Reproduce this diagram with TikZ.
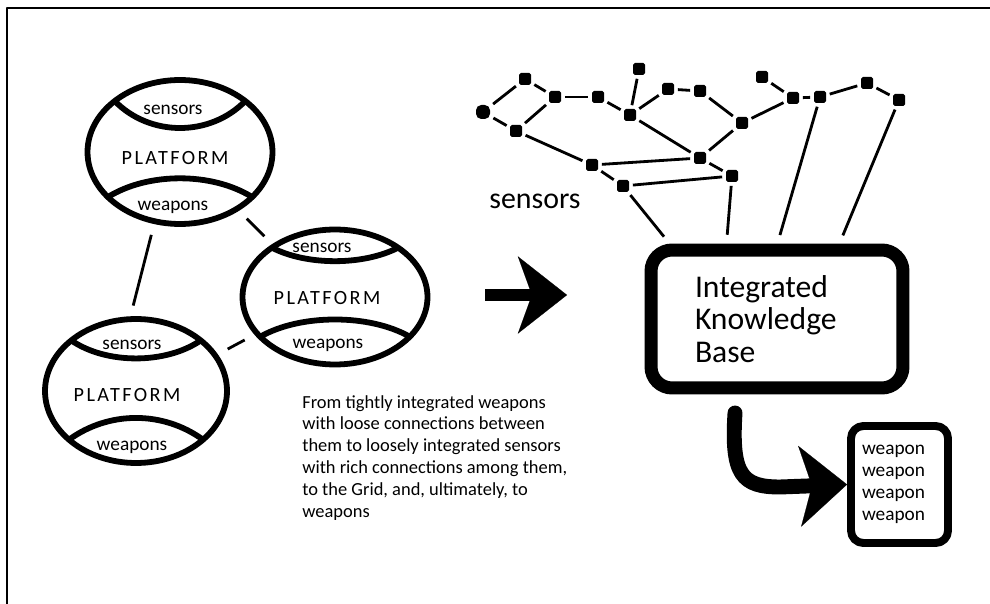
\documentclass[tikz,border=0pt]{standalone}
\usepackage{fontspec}
\setmainfont{Carlito}
\newfontfamily\platfont[LetterSpace=12]{Carlito}
\usetikzlibrary{shapes.geometric,arrows.meta}

\begin{document}
\begin{tikzpicture}[x=0.02cm,y=-0.02cm,line join=round,
	platform/.style={ellipse, draw, line width=3.3pt, inner sep=0pt, outer sep=0pt, minimum width=3.7cm, minimum height=2.88cm},
	band/.style={line width=3.3pt},
	bandtxt/.style={font=\fontsize{11}{13}\selectfont},
	plattxt/.style={font=\platfont\fontsize{11.5}{13}\selectfont},
	conn/.style={line width=1.6pt, shorten >=8pt, shorten <=8pt},
	sq/.style={rectangle, fill, inner sep=0pt, minimum size=0.24cm, rounded corners=1pt},
	link/.style={line width=1.6pt, shorten >=2pt, shorten <=2pt},
	kbbox/.style={rectangle, draw, line width=7.4pt, rounded corners=12pt, minimum width=5.04cm, minimum height=2.76cm, text width=3.28cm, align=left, font=\fontsize{18}{18.5}\selectfont},
	wbox/.style={rectangle, draw, line width=4.5pt, rounded corners=7pt, minimum width=1.94cm, minimum height=2.34cm, text width=1.5cm, align=left, font=\fontsize{11}{12.5}\selectfont},
	fatarrow/.style={line width=6.8pt, -{Stealth[length=28pt, width=44pt, inset=8pt, line width=0.1pt]}},
	bentarrow/.style={line width=8.5pt, line cap=round, -{Stealth[length=27pt, width=46pt, inset=7pt, line width=0.1pt]}}]
	\useasboundingbox (0,0) rectangle (990,604);
	\draw[line width=1.4pt] (7,604) -- (7,8) -- (990,8);

	\begin{scope}[shift={(180,152)}]
		\node (p1) at (0,0) [platform] {};
		\draw[band] (p1.142) .. controls +(35,36) and +(-35,36) .. (p1.38);
		\draw[band] (p1.212) .. controls +(40,-25) and +(-40,-25) .. (p1.328);
		\node (p1s) at (-7,-42)	[bandtxt]	{sensors};
		\node (p1p) at (-5,6)	[plattxt]	{PLATFORM};
		\node (p1w) at (-7,55)	[bandtxt]	{weapons};
	\end{scope}
	\begin{scope}[shift={(335,297)}]
		\node (p2) at (0,0) [platform, minimum height=2.7cm] {};
		\draw[band] (p2.142) .. controls +(35,18) and +(-35,18) .. (p2.38);
		\draw[band] (p2.208) .. controls +(40,-23) and +(-40,-23) .. (p2.332);
		\node (p2s) at (-13,-49)	[bandtxt]	{sensors};
		\node (p2p) at (-8,1)	[plattxt]	{PLATFORM};
		\node (p2w) at (-7,48)	[bandtxt]	{weapons};
	\end{scope}
	\begin{scope}[shift={(136,391)}]
		\node (p3) at (0,0) [platform, minimum width=3.64cm] {};
		\draw[band] (p3.142) .. controls +(35,24) and +(-35,24) .. (p3.38);
		\draw[band] (p3.216) .. controls +(40,-29) and +(-40,-29) .. (p3.324);
		\node (p3s) at (-4,-46)	[bandtxt]	{sensors};
		\node (p3p) at (-9,4)	[plattxt]	{PLATFORM};
		\node (p3w) at (-4,56)	[bandtxt]	{weapons};
	\end{scope}
	\draw[conn] (p1.250) -- (p3.95);
	\draw[conn] (p1.315) -- (p2.140);
	\draw[conn] (p2.205) -- (p3.24);

	\node (cap) at (302,458) [anchor=west, align=left, inner sep=0pt, font=\fontsize{10.5}{12.5}\selectfont] {From tightly integrated weapons\\with loose connections between\\them to loosely integrated sensors\\with rich connections among them,\\to the Grid, and, ultimately, to\\weapons};

	\coordinate (a1) at (485,295);
	\coordinate (a2) at (567,295);
	\draw[fatarrow] (a1) -- (a2);
	\node (sens) at (535,201) [font=\fontsize{17}{20}\selectfont] {sensors};

	\node (kb) at (777,319)	[kbbox]	{Integrated\\Knowledge\\Base};
	\node (wb) at (899.5,484.5)	[wbox]	{weapon\\weapon\\weapon\\weapon};
	\coordinate (b1) at (735,413);
	\draw[bentarrow] (b1) .. controls (731,475) and (742,487) .. (780,487) -- (wb.west);

	\node (n1)  at (483,112)	[sq, minimum size=0.28cm, rounded corners=3pt]	{};
	\node (n2)  at (525,79)	[sq]	{};
	\node (n3)  at (555,97)	[sq]	{};
	\node (n4)  at (516,131)	[sq]	{};
	\node (n5)  at (598,97)	[sq]	{};
	\node (n6)  at (639,69)	[sq]	{};
	\node (n7)  at (630,115)	[sq]	{};
	\node (n8)  at (668,89)	[sq]	{};
	\node (n9)  at (700,91)	[sq]	{};
	\node (n10) at (742,123)	[sq]	{};
	\node (n11) at (762,77)	[sq]	{};
	\node (n12) at (793,98)	[sq]	{};
	\node (n13) at (820,97)	[sq]	{};
	\node (n14) at (867,83)	[sq]	{};
	\node (n15) at (899,100)	[sq]	{};
	\node (n16) at (592,165)	[sq]	{};
	\node (n17) at (700,158)	[sq]	{};
	\node (n18) at (732,176)	[sq]	{};
	\node (n19) at (623,186)	[sq]	{};
	\draw[link] (n1) -- (n2);
	\draw[link] (n1) -- (n4);
	\draw[link] (n2) -- (n3);
	\draw[link] (n3) -- (n4);
	\draw[link] (n3) -- (n5);
	\draw[link] (n5) -- (n7);
	\draw[link] (n7) -- (n6);
	\draw[link] (n7) -- (n8);
	\draw[link] (n8) -- (n9);
	\draw[link] (n9) -- (n10);
	\draw[link] (n10) -- (n12);
	\draw[link] (n11) -- (n12);
	\draw[link] (n12) -- (n13);
	\draw[link] (n13) -- (n14);
	\draw[link] (n14) -- (n15);
	\draw[link] (n7) -- (n17);
	\draw[link] (n10) -- (n17);
	\draw[link] (n4) -- (n16);
	\draw[link] (n16) -- (n17);
	\draw[link] (n16) -- (n19);
	\draw[link] (n17) -- (n18);
	\draw[link] (n19) -- (n18);
	\draw[link, shorten >=5pt] (n19) -- ([xshift=0.5cm]kb.north west);
	\draw[link, shorten >=5pt] (n18) -- ([xshift=1.64cm]kb.north west);
	\draw[link, shorten >=5pt] (n13) -- ([xshift=2.66cm]kb.north west);
	\draw[link, shorten >=5pt] (n15) -- ([xshift=3.9cm]kb.north west);
\end{tikzpicture}
\end{document}
